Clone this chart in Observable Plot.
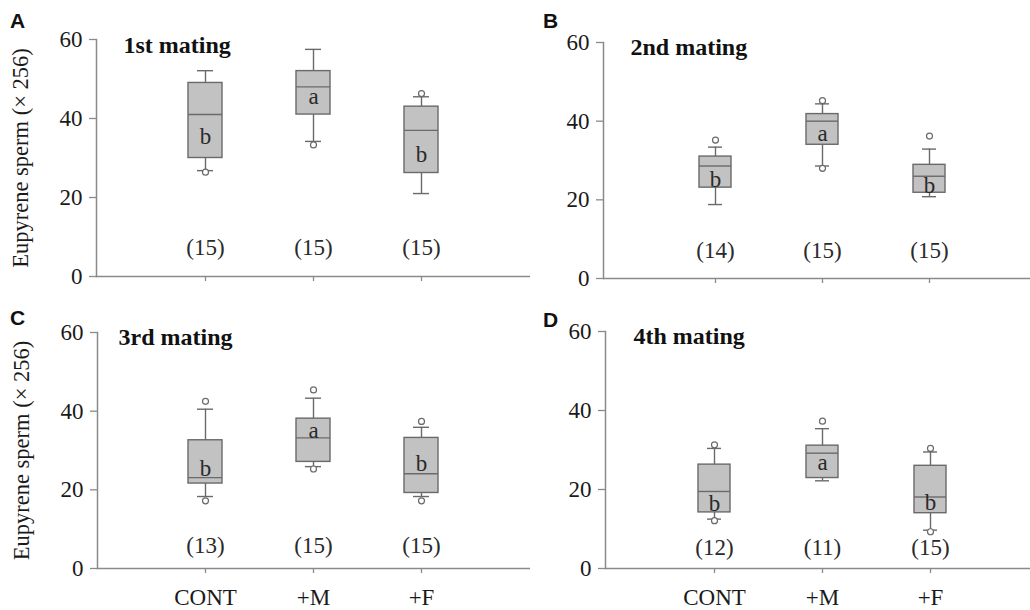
<!DOCTYPE html>
<html>
<head>
<meta charset="utf-8">
<script src="https://cdn.jsdelivr.net/npm/d3@7"></script>
<script src="https://cdn.jsdelivr.net/npm/@observablehq/plot@0.6"></script>
<style>
  html, body { margin: 0; padding: 0; background: #fff; }
  #wrap { position: relative; width: 1030px; height: 610px; overflow: hidden; }
  .panel { position: absolute; }
  .panel svg text { font-family: "Liberation Serif", "Times New Roman", serif; font-variant: normal; }
  .plabel { position: absolute; font: bold 21px "Liberation Sans", Arial, sans-serif; line-height: 1; color: #111; }
</style>
</head>
<body>
<div id="wrap"></div>
<script>
// ---------- data ----------
const groups = ["CONT", "+M", "+F"];
const panelLetters = ["A", "B", "C", "D"];
const titles = ["1st mating", "2nd mating", "3rd mating", "4th mating"];
const yTicks = [0, 20, 40, 60];
const yLabel = "Eupyrene sperm (× 256)";

// box statistics, one row per panel, one value per group
const whiskerLow  = [[26.8, 34.2, 21.0], [18.8, 28.6, 20.8], [18.3, 25.9, 18.3], [12.5, 22.2, 9.7]];
const quart1      = [[30.0, 41.0, 26.2], [23.1, 34.0, 21.8], [21.6, 27.1, 19.2], [14.2, 22.9, 14.0]];
const median      = [[41.0, 48.0, 37.0], [28.6, 40.0, 26.0], [23.1, 33.2, 24.1], [19.5, 29.2, 18.1]];
const quart3      = [[49.0, 52.0, 43.0], [31.0, 41.8, 28.9], [32.6, 38.1, 33.2], [26.3, 31.1, 26.0]];
const whiskerHigh = [[52.1, 57.5, 45.5], [33.4, 44.4, 32.9], [40.5, 43.3, 35.9], [30.4, 35.4, 29.5]];
const outliers = [
  [[26.4], [33.3], [46.3]],
  [[35.2], [45.2, 28.0], [36.2]],
  [[42.5, 17.2], [45.4, 25.3], [37.4, 17.2]],
  [[31.3, 12.1], [37.3], [30.4, 9.3]]
];
const sigLetters = [["b", "a", "b"], ["b", "a", "b"], ["b", "a", "b"], ["b", "a", "b"]];
const sigLetterY = [[35.3, 45.5, 30.9], [25.2, 36.8, 23.5], [25.3, 35.0, 26.7], [16.3, 26.7, 16.6]];
const counts = [[15, 15, 15], [14, 15, 15], [13, 15, 15], [12, 11, 15]];
const countY = [7.4, 7.2, 5.9, 5.3];

// ---------- layout (pixels, not data) ----------
const layout = [
  {left: 0,   top: 0,   w: 530, h: 300, mL: 96, mT: 39, mB: 24, range: [149.75, 475.25], pi: 0.687, tdx: 27, tdy: 6, yAxisLabel: true,  xLabels: false},
  {left: 515, top: 0,   w: 515, h: 300, mL: 88, mT: 42, mB: 22, range: [145.4, 469.0],   pi: 0.703, tdx: 27, tdy: 5, yAxisLabel: false, xLabels: false},
  {left: 0,   top: 300, w: 530, h: 310, mL: 97, mT: 32, mB: 42, range: [149.75, 475.25], pi: 0.687, tdx: 21, tdy: 5, yAxisLabel: true,  xLabels: true},
  {left: 515, top: 300, w: 515, h: 310, mL: 90, mT: 31, mB: 42, range: [145.4, 469.4],   pi: 0.703, tdx: 28, tdy: 5, yAxisLabel: false, xLabels: true}
];
const letterPos = [[10, 10], [543, 10], [10, 307], [543, 309]];

const axisColor = "#8a8a8a";
const boxStroke = "#6a6a6a";
const boxFill = "#c2c2c2";
const textColor = "#1a1a1a";
const serif = "'Liberation Serif', 'Times New Roman', serif";

const wrap = document.getElementById("wrap");

panelLetters.forEach((P, k) => {
  const L = layout[k];
  const boxes = groups.map((g, i) => ({
    g, lo: whiskerLow[k][i], q1: quart1[k][i], med: median[k][i], q3: quart3[k][i], hi: whiskerHigh[k][i],
    letter: sigLetters[k][i], ly: sigLetterY[k][i], n: counts[k][i], ny: countY[k]
  }));
  const outs = groups.flatMap((g, i) => outliers[k][i].map(v => ({g, v})));

  const chart = Plot.plot({
    width: L.w, height: L.h,
    marginLeft: L.mL, marginTop: L.mT, marginBottom: L.mB, marginRight: 0,
    style: {background: "none", fontFamily: serif, fontSize: "21px", color: textColor, overflow: "visible"},
    x: {domain: groups, range: L.range, paddingInner: L.pi, paddingOuter: L.pi / 2, axis: null},
    y: {domain: [0, 60], axis: null},
    marks: [
      Plot.axisY({
        ticks: yTicks, tickSize: 7, tickPadding: 7, stroke: axisColor, strokeWidth: 1.3, fill: textColor,
        fontSize: 23, fontFamily: serif,
        label: L.yAxisLabel ? yLabel : null, labelAnchor: "center", labelArrow: "none", labelOffset: 84
      }),
      Plot.axisX({
        tickSize: 5, tickPadding: 15, stroke: axisColor, strokeWidth: 1.3, fill: textColor, fontSize: 23,
        fontFamily: serif, tickFormat: L.xLabels ? (d => d) : (() => ""), label: null
      }),
      Plot.frame({anchor: "left", stroke: axisColor, strokeWidth: 1.5}),
      Plot.ruleY([0], {stroke: axisColor, strokeWidth: 1.5}),
      Plot.ruleX(boxes, {x: "g", y1: "lo", y2: "hi", stroke: boxStroke, strokeWidth: 1.4}),
      Plot.tickY(boxes, {x: "g", y: "lo", stroke: boxStroke, strokeWidth: 1.4, insetLeft: 9, insetRight: 9}),
      Plot.tickY(boxes, {x: "g", y: "hi", stroke: boxStroke, strokeWidth: 1.4, insetLeft: 9, insetRight: 9}),
      Plot.barY(boxes, {x: "g", y1: "q1", y2: "q3", fill: boxFill, stroke: boxStroke, strokeWidth: 1.4}),
      Plot.tickY(boxes, {x: "g", y: "med", stroke: boxStroke, strokeWidth: 1.4}),
      Plot.dot(outs, {x: "g", y: "v", r: 3, stroke: boxStroke, strokeWidth: 1.2, fill: "white"}),
      Plot.text(boxes, {x: "g", y: "ly", text: "letter", fill: "#2a2a2a", fontSize: 23}),
      Plot.text(boxes, {x: "g", y: "ny", text: d => `(${d.n})`, fill: "#2a2a2a", fontSize: 23}),
      Plot.text([titles[k]], {frameAnchor: "top-left", textAnchor: "start", lineAnchor: "middle",
        dx: L.tdx, dy: L.tdy, fontWeight: "bold", fontSize: 24, fill: "#111"})
    ]
  });
  chart.querySelectorAll("g[aria-label='y-axis label'] text").forEach(t => t.setAttribute("font-size", 22.5));
  const div = document.createElement("div");
  div.className = "panel";
  div.style.left = L.left + "px";
  div.style.top = L.top + "px";
  div.style.zIndex = String(10 - k);
  div.appendChild(chart);
  wrap.appendChild(div);

  const lab = document.createElement("div");
  lab.className = "plabel";
  lab.textContent = P;
  lab.style.left = letterPos[k][0] + "px";
  lab.style.top = letterPos[k][1] + "px";
  lab.style.zIndex = "20";
  wrap.appendChild(lab);
});
</script>
</body>
</html>
